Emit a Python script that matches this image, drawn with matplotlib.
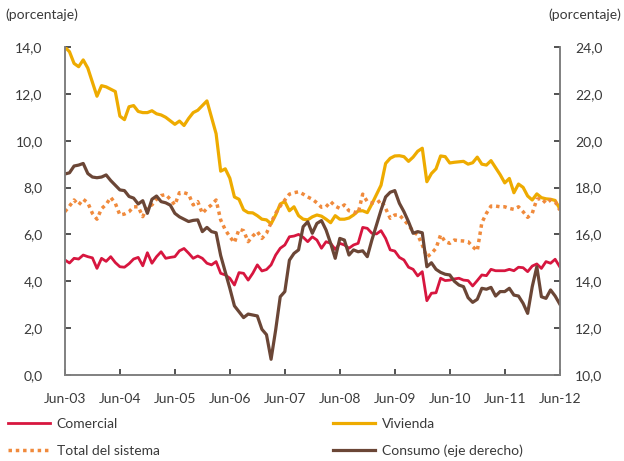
import matplotlib
matplotlib.use("Agg")
import matplotlib.pyplot as plt

plt.rcParams['font.family'] = ['Lato', 'DejaVu Sans']

# monthly series, Jun-03 .. Jun-12 (left axis units; consumo is on the right axis)
comercial = [4.91, 4.78, 4.98, 4.95, 5.12, 5.05, 5.00, 4.55, 4.98, 4.85, 5.05, 4.80,
             4.62, 4.60, 4.75, 4.95, 5.02, 4.66, 5.22, 4.77, 5.05, 5.26, 4.98, 5.02,
             5.05, 5.30, 5.40, 5.20, 4.98, 5.08, 4.98, 4.77, 4.70, 4.84, 4.34, 4.27,
             4.13, 3.84, 4.37, 4.34, 4.05, 4.34, 4.70, 4.44, 4.50, 4.70, 5.12, 5.41,
             5.55, 5.90, 5.93, 6.00, 5.88, 5.69, 5.90, 5.76, 5.41, 5.69, 5.62, 5.36,
             5.62, 5.55, 5.41, 5.55, 5.62, 6.30, 6.26, 6.05, 6.02, 6.16, 5.83, 5.34,
             5.29, 5.02, 4.91, 4.60, 4.51, 4.23, 4.41, 3.17, 3.49, 3.51, 4.13, 4.03,
             4.05, 4.10, 4.13, 4.05, 4.03, 3.80, 4.03, 4.27, 4.24, 4.51, 4.45, 4.45,
             4.45, 4.51, 4.45, 4.60, 4.58, 4.41, 4.65, 4.74, 4.55, 4.84, 4.77, 4.94,
             4.62]

vivienda = [14.00, 13.80, 13.30, 13.16, 13.45, 13.10, 12.50, 11.90, 12.35, 12.30, 12.20, 12.10,
            11.05, 10.90, 11.45, 11.50, 11.25, 11.20, 11.20, 11.28, 11.15, 11.10, 11.00, 10.85,
            10.70, 10.84, 10.65, 10.95, 11.20, 11.30, 11.50, 11.70, 11.00, 10.30, 8.70, 8.80,
            8.40, 7.60, 7.50, 7.05, 6.93, 6.92, 6.80, 6.65, 6.62, 6.45, 6.83, 7.30,
            7.40, 7.01, 7.18, 6.80, 6.65, 6.62, 6.75, 6.83, 6.78, 6.65, 6.50, 6.80,
            6.65, 6.65, 6.70, 6.83, 7.00, 7.01, 6.93, 7.30, 7.70, 8.10, 9.03, 9.25,
            9.35, 9.36, 9.32, 9.12, 9.30, 9.55, 9.68, 8.25, 8.60, 8.80, 9.35, 9.32,
            9.05, 9.08, 9.10, 9.12, 9.00, 9.06, 9.30, 9.00, 8.96, 9.15, 8.85, 8.55,
            8.20, 8.39, 7.78, 8.15, 8.01, 7.64, 7.47, 7.73, 7.57, 7.52, 7.50, 7.45,
            7.10]

total = [6.97, 7.21, 7.47, 7.26, 7.50, 7.35, 6.90, 6.65, 7.10, 7.28, 7.58, 7.33,
         6.83, 6.87, 6.97, 7.18, 7.18, 6.76, 7.18, 7.26, 7.50, 7.66, 7.70, 7.50,
         7.26, 7.78, 7.78, 7.72, 7.26, 7.40, 6.90, 7.11, 7.26, 7.47, 6.62, 6.20,
         5.90, 5.65, 6.22, 6.16, 5.69, 5.93, 6.12, 5.83, 6.05, 6.50, 6.90, 7.21,
         7.47, 7.72, 7.78, 7.82, 7.72, 7.60, 7.50, 7.35, 7.16, 7.18, 7.40, 7.21,
         7.11, 7.26, 7.01, 6.97, 6.90, 7.72, 7.40, 7.35, 7.33, 7.47, 7.11, 6.69,
         6.83, 6.83, 6.62, 6.40, 6.12, 5.98, 5.55, 5.03, 5.19, 5.41, 5.98, 5.69,
         5.62, 5.76, 5.73, 5.72, 5.69, 5.48, 5.30, 6.50, 6.90, 7.21, 7.21, 7.18,
         7.18, 7.11, 7.07, 7.18, 6.97, 6.73, 6.90, 7.50, 7.54, 7.33, 7.47, 7.40,
         7.04]

consumo = [18.58, 18.63, 18.92, 18.96, 19.03, 18.60, 18.45, 18.42, 18.45, 18.54, 18.30, 18.10,
           17.90, 17.87, 17.62, 17.55, 17.30, 17.44, 16.90, 17.50, 17.64, 17.40, 17.35, 17.25,
           16.90, 16.75, 16.65, 16.55, 16.60, 16.62, 16.12, 16.30, 16.12, 16.07, 15.10, 14.40,
           13.70, 12.95, 12.70, 12.45, 12.60, 12.56, 12.52, 11.95, 11.72, 10.67, 11.92, 13.34,
           13.56, 14.90, 15.19, 15.34, 16.33, 16.54, 16.05, 16.47, 16.59, 16.19, 15.62, 14.98,
           15.83, 15.76, 15.12, 15.34, 15.26, 15.30, 15.05, 15.76, 16.40, 17.04, 17.60, 17.80,
           17.87, 17.33, 16.97, 16.54, 16.05, 16.12, 16.07, 14.62, 14.79, 14.51, 14.38, 14.30,
           14.27, 14.00, 13.84, 13.77, 13.30, 13.10, 13.23, 13.70, 13.66, 13.74, 13.37, 13.56,
           13.56, 13.70, 13.41, 13.37, 13.06, 12.63, 13.77, 14.62, 13.34, 13.27, 13.63, 13.37,
           13.03]

xlabels = ['Jun-03', 'Jun-04', 'Jun-05', 'Jun-06', 'Jun-07', 'Jun-08',
           'Jun-09', 'Jun-10', 'Jun-11', 'Jun-12']

months = list(range(len(comercial)))
grey = '#808080'
txt = '#3a3a3a'
fs = 10

fig = plt.figure(figsize=(6.24, 4.61), dpi=100)
ax = fig.add_axes([0.104, 0.1866, 0.793, 0.7114])
ax2 = ax.twinx()

l1, = ax.plot(months, comercial, color='#d7163f', lw=2.0, label='Comercial')
l2, = ax.plot(months, vivienda, color='#eeab00', lw=2.3, label='Vivienda')
l3, = ax.plot(months, total, color='#f08a3c', lw=2.5, ls=(0, (1, 1.1)), label='Total del sistema')
l4, = ax2.plot(months, consumo, color='#6b4636', lw=2.3, label='Consumo (eje derecho)')

ax.set_xlim(0, 108)
ax.set_ylim(0, 14)
ax2.set_ylim(10, 24)
ax.set_xticks(range(0, 109, 12))
ax.set_xticklabels(xlabels)
ax.set_yticks(range(0, 15, 2))
ax.set_yticklabels([f'{v:.1f}'.replace('.', ',') for v in range(0, 15, 2)])
ax2.set_yticks(range(10, 25, 2))
ax2.set_yticklabels([f'{v:.1f}'.replace('.', ',') for v in range(10, 25, 2)])

for a in (ax, ax2):
    a.spines['top'].set_visible(False)
    for s in ('left', 'right', 'bottom'):
        a.spines[s].set_color(grey)
        a.spines[s].set_linewidth(1.2)
    a.tick_params(direction='in', color='#333333', length=4, width=1.2,
                  labelcolor=txt, labelsize=fs)
ax.tick_params(axis='y', pad=16)
ax.tick_params(axis='x', pad=13)
ax2.tick_params(axis='y', pad=11)

fig.text(0.008, 0.967, '(porcentaje)', color=txt, fontsize=fs, va='center', ha='left')
fig.text(0.995, 0.967, '(porcentaje)', color=txt, fontsize=fs, va='center', ha='right')

leg_kw = dict(ncol=1, loc='upper left', frameon=False, fontsize=fs,
              handlelength=3.0, handletextpad=0.5, labelspacing=1.05,
              borderpad=0, borderaxespad=0, labelcolor=txt)
fig.legend(handles=[l1, l3], bbox_to_anchor=(8 / 624, 0.093), **leg_kw)
fig.legend(handles=[l2, l4], bbox_to_anchor=(333 / 624, 0.093), **leg_kw)

fig.savefig('out.png', dpi=100)
